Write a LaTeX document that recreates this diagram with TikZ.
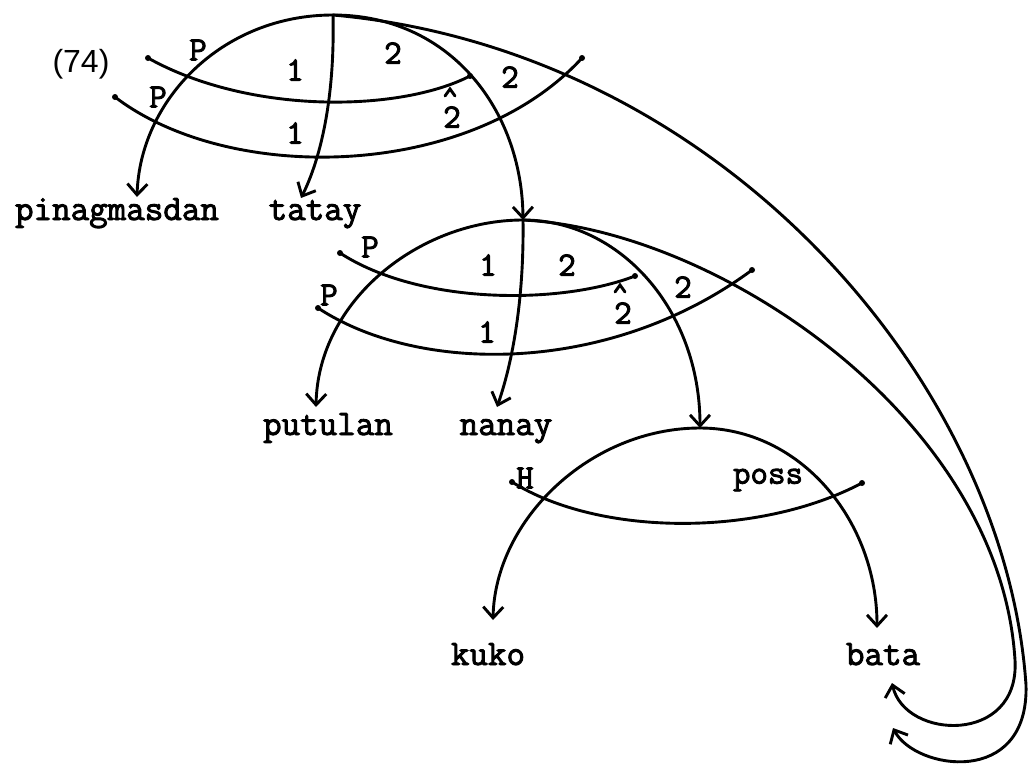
\documentclass[tikz,border=0pt]{standalone}
\usepackage{fontspec}
\usetikzlibrary{arrows.meta}
\newfontfamily\tw{Latin Modern Mono}[FakeBold=2.5]
\newfontfamily\sansf{Liberation Sans}
\tikzset{
  ln/.style={line width=2.9pt, line cap=round},
  arr/.style={ln, -{Straight Barb[length=11pt,width=20pt,line width=2.9pt]}},
  word/.style={font=\tw\fontsize{36}{36}\selectfont, inner sep=0pt, anchor=base},
  lab/.style={font=\tw\fontsize{34}{34}\selectfont, inner sep=0pt},
  enddot/.style={fill, circle, inner sep=0pt, minimum size=6pt},
}
\begin{document}
\begin{tikzpicture}[x=1pt,y=-1pt]
\useasboundingbox (0,0) rectangle (1030,763);
% branching points
\coordinate (T1) at (333,15);
\coordinate (T2) at (523,220);
\coordinate (T3) at (700,428);
% words
\node[font=\sansf\fontsize{32}{32}\selectfont, inner sep=0pt] (num) at (81,64) {(74)};
\node[word] (pin) at (117,220) {pinagmasdan};
\node[word] (tat) at (315,220) {tatay};
\node[word] (put) at (328,435) {putulan};
\node[word] (nan) at (506,435) {nanay};
\node[word] (kuk) at (488,665) {kuko};
\node[word] (bat) at (883,665) {bata};
% arrow tips
\coordinate (pinT) at (137,197);
\coordinate (tatT) at (301,198);
\coordinate (putT) at (316,407);
\coordinate (nanT) at (497,407);
\coordinate (kukT) at (493,620);
\coordinate (batT) at (877,628);
\coordinate (batA) at (893,728);
\coordinate (batB) at (892,683);
\coordinate (c1) at (1026,685);
\coordinate (c2) at (1015,660);
% arcs from T1
\draw[arr] (T1) .. controls (222,15) and (140,100) .. (pinT);
\draw[arr] (T1) .. controls (335,100) and (320,160) .. (tatT);
\draw[arr] (T1) .. controls (450,15) and (522,110) .. (T2);
\draw[arr] (T1) .. controls (720,50) and (1005,380) .. (c1) .. controls (1029,788) and (915,770) .. (batA);
% arcs from T2
\draw[arr] (T2) .. controls (420,220) and (318,300) .. (putT);
\draw[arr] (T2) .. controls (524,290) and (515,355) .. (nanT);
\draw[arr] (T2) .. controls (620,220) and (700,310) .. (T3);
\draw[arr] (T2) .. controls (720,230) and (1000,420) .. (c2) .. controls (1020,745) and (905,740) .. (batB);
% arcs from T3
\draw[arr] (T3) .. controls (590,428) and (495,520) .. (kukT);
\draw[arr] (T3) .. controls (800,428) and (877,520) .. (batT);
% stratum lines
\node[enddot] (a1) at (148,58) {};
\node[enddot] (a2) at (470,76) {};
\node[enddot] (b1) at (115,97) {};
\node[enddot] (b2) at (582,58) {};
\node[enddot] (d1) at (340,253) {};
\node[enddot] (d2) at (635,276) {};
\node[enddot] (e1) at (318,308) {};
\node[enddot] (e2) at (752,270) {};
\node[enddot] (f1) at (512,482) {};
\node[enddot] (f2) at (862,483) {};
\draw[ln] (a1.center) .. controls (250,115) and (400,112) .. (a2.center);
\draw[ln] (b1.center) .. controls (230,185) and (470,180) .. (b2.center);
\draw[ln] (d1.center) .. controls (420,305) and (560,305) .. (d2.center);
\draw[ln] (e1.center) .. controls (420,375) and (610,375) .. (e2.center);
\draw[ln] (f1.center) .. controls (600,537) and (760,537) .. (f2.center);
% carets
\coordinate (k1) at (450,89);
\coordinate (k2) at (620,285);
\draw[ln] ([xshift=-5pt,yshift=-7pt]k1) -- (k1) -- ([xshift=5pt,yshift=-7pt]k1);
\draw[ln] ([xshift=-5pt,yshift=-7pt]k2) -- (k2) -- ([xshift=5pt,yshift=-7pt]k2);
% labels structure 1
\node[lab] (p1) at (198,50) {P};
\node[lab] (p2) at (158,97) {P};
\node[lab] (o1) at (295,70) {1};
\node[lab] (o2) at (295,133) {1};
\node[lab] (w1) at (393,53) {2};
\node[lab] (w2) at (510,77) {2};
\node[lab] (w3) at (452,117) {2};
% labels structure 2
\node[lab] (p3) at (370,247) {P};
\node[lab] (p4) at (329,295) {P};
\node[lab] (o3) at (488,265) {1};
\node[lab] (o4) at (487,332) {1};
\node[lab] (w4) at (567,265) {2};
\node[lab] (w5) at (683,287) {2};
\node[lab] (w6) at (623,313) {2};
% labels structure 3
\node[lab] (h) at (525,478) {H};
\node[lab] (poss) at (768,480) {poss};
\end{tikzpicture}
\end{document}
